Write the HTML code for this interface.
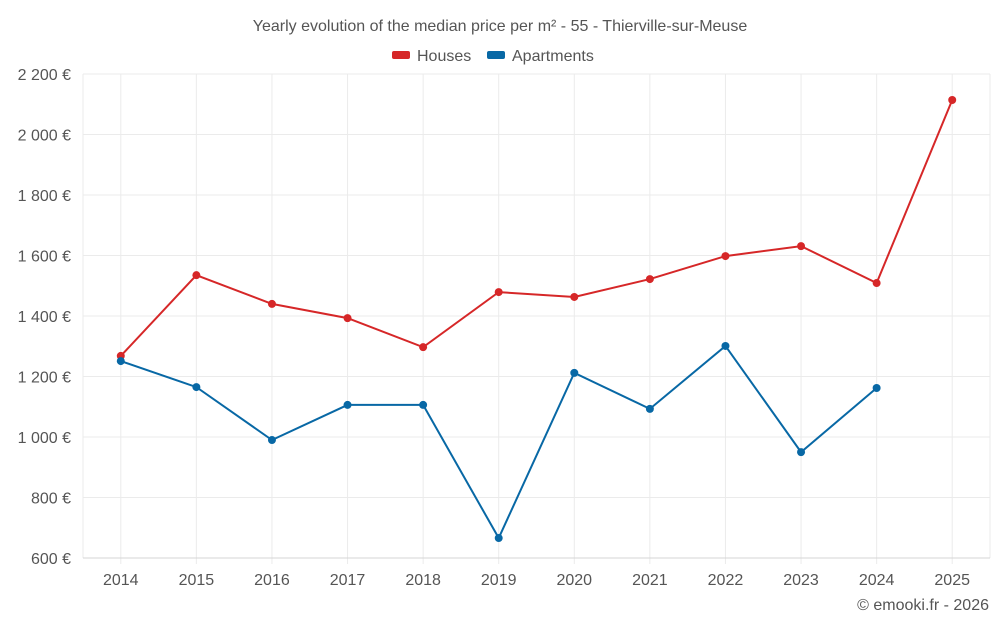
<!DOCTYPE html>
<html>
<head>
<meta charset="utf-8">
<style>
  html,body{margin:0;padding:0;background:#fff;}
  body{width:1000px;height:625px;overflow:hidden;font-family:"Liberation Sans",sans-serif;}
  svg text{font-family:"Liberation Sans",sans-serif;}
</style>
</head>
<body>
<svg id="chart" width="1000" height="625" xmlns="http://www.w3.org/2000/svg">
  <text x="500" y="31" text-anchor="middle" font-size="16" fill="#555">Yearly evolution of the median price per m² - 55 - Thierville-sur-Meuse</text>
  <g>
    <g>
      <rect x="392" y="51" width="18" height="8" rx="2" fill="#d62728"></rect>
      <text x="417" y="61" font-size="16" fill="#555">Houses</text>
    </g>
    <g>
      <rect x="487" y="51" width="18" height="8" rx="2" fill="#0868a5"></rect>
      <text x="512" y="61" font-size="16" fill="#555">Apartments</text>
    </g>
  </g>
  <g id="grid"></g>
  <g id="axes"></g>
  <g id="series"></g>
  <text x="989" y="610" text-anchor="end" font-size="16" fill="#555">© emooki.fr - 2026</text>
</svg>
<script>
const years = [2014,2015,2016,2017,2018,2019,2020,2021,2022,2023,2024,2025];
const houses = [1268,1535,1440,1393,1297,1479,1463,1522,1598,1631,1509,2114];
const apartments = [1251,1165,990,1106,1106,666,1212,1093,1301,950,1162,null];
const yTicks = [600,800,1000,1200,1400,1600,1800,2000,2200];
const yTickLabels = ["600 €","800 €","1 000 €","1 200 €","1 400 €","1 600 €","1 800 €","2 000 €","2 200 €"];

const L=83,R=990,T=74,B=558,yMin=600,yMax=2200;
const band=(R-L)/years.length;
function xs(i){return L+band*(i+0.5);}
function ys(v){return B-(v-yMin)/(yMax-yMin)*(B-T);}
const NS="http://www.w3.org/2000/svg";
function mk(tag,attrs,parent){const e=document.createElementNS(NS,tag);for(const k in attrs)e.setAttribute(k,attrs[k]);parent.appendChild(e);return e;}
const grid=document.getElementById('grid'),axes=document.getElementById('axes'),series=document.getElementById('series');

yTicks.forEach((v,i)=>{
  const y=ys(v);
  const gl=mk('line',{x1:L,x2:R,y1:y,y2:y,stroke:'#ebebeb','stroke-width':1},grid);
  
  
  const t=mk('text',{x:71,y:y+6,'text-anchor':'end','font-size':16,fill:'#555'},axes);
  t.textContent=yTickLabels[i];
  
  
});
[L,R].forEach(x=>{
  const gl=mk('line',{x1:x,x2:x,y1:T,y2:B,stroke:'#ebebeb','stroke-width':1},grid);
  
  
});
years.forEach((yr,i)=>{
  const x=xs(i);
  const gl=mk('line',{x1:x,x2:x,y1:T,y2:B,stroke:'#ebebeb','stroke-width':1},grid);
  
  
  mk('line',{x1:x,x2:x,y1:B,y2:B+6,stroke:'#ebebeb'},axes);
  const t=mk('text',{x:x,y:585,'text-anchor':'middle','font-size':16,fill:'#555'},axes);
  t.textContent=yr;
  
  
});
const ax=mk('line',{x1:L,x2:R,y1:B,y2:B,stroke:'#d5d5d5'},axes);



function draw(vals,color,name){
  let d='';
  vals.forEach((v,i)=>{ if(v==null)return; d+=(d?'L':'M')+xs(i)+','+ys(v); });
  const p=mk('path',{d:d,fill:'none',stroke:color,'stroke-width':2},series);
  
  
  vals.forEach((v,i)=>{
    if(v==null)return;
    const c=mk('circle',{cx:xs(i),cy:ys(v),r:4,fill:color},series);
    
    
  });
}
draw(houses,'#d62728','houses');
draw(apartments,'#0868a5','apartments');
</script>
</body>
</html>
